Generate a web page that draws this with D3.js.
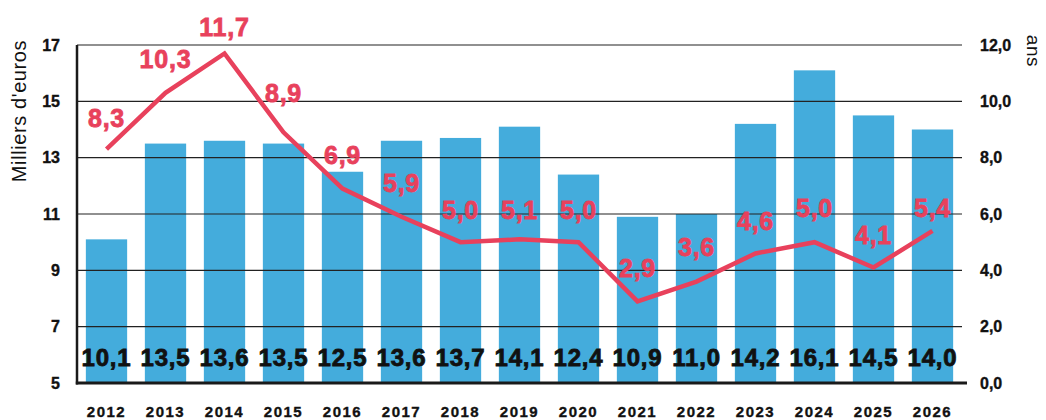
<!DOCTYPE html>
<html>
<head>
<meta charset="utf-8">
<script src="https://cdn.jsdelivr.net/npm/d3@7"></script>
<style>
  body { margin: 0; background: #fff; }
  svg text { font-family: "Liberation Sans", Arial, sans-serif; }
  .tick-lbl { font-size: 16px; font-weight: bold; fill: #111; stroke: #111; stroke-width: 0.35px; }
  .year-lbl { font-size: 15px; font-weight: bold; fill: #111; letter-spacing: 1.5px; stroke: #111; stroke-width: 0.35px; }
  .bar-lbl { font-size: 24px; font-weight: bold; fill: #111; letter-spacing: 0.8px; stroke: #111; stroke-width: 0.8px; }
  .line-lbl { font-size: 25px; font-weight: bold; fill: #e8415c; letter-spacing: 0.8px; stroke: #e8415c; stroke-width: 0.8px; }
  .axis-title { font-size: 20px; fill: #111; letter-spacing: 0.6px; }
</style>
</head>
<body>
<div id="chart"></div>
<script>
// data
const years = ["2012", "2013", "2014", "2015", "2016", "2017", "2018", "2019",
               "2020", "2021", "2022", "2023", "2024", "2025", "2026"];
const amounts = [10.1, 13.5, 13.6, 13.5, 12.5, 13.6, 13.7, 14.1, 12.4, 10.9, 11.0, 14.2, 16.1, 14.5, 14.0];
const durations = [8.3, 10.3, 11.7, 8.9, 6.9, 5.9, 5.0, 5.1, 5.0, 2.9, 3.6, 4.6, 5.0, 4.1, 5.4];
const leftTicks = [5, 7, 9, 11, 13, 15, 17];
const rightTicks = [0, 2, 4, 6, 8, 10, 12];

// how far each red label sits above its point (layout only)
const labelLift = [22, 25, 17, 30, 25, 25, 23, 20, 23, 24, 26, 23, 25, 24, 14];

const width = 1046, height = 420;
const margin = { top: 45, right: 84, bottom: 37, left: 77 };

const svg = d3.select("#chart").append("svg")
    .attr("width", width)
    .attr("height", height);

const frLocale = d3.formatLocale({ decimal: ",", thousands: " ", grouping: [3], currency: ["", " €"] });
const fmt1 = frLocale.format(".1f");

const x = d3.scaleBand()
    .domain(years)
    .range([margin.left, width - margin.right])
    .paddingInner(0.3)
    .paddingOuter(0.15);

const yLeft = d3.scaleLinear().domain([5, 17]).range([height - margin.bottom, margin.top]);
const yRight = d3.scaleLinear().domain([0, 12]).range([height - margin.bottom, margin.top]);

// bars
svg.append("g")
  .selectAll("rect")
  .data(years)
  .join("rect")
    .attr("x", d => x(d))
    .attr("width", x.bandwidth())
    .attr("y", (d, i) => yLeft(amounts[i]))
    .attr("height", (d, i) => yLeft(5) - yLeft(amounts[i]))
    .attr("fill", "#44acdc");

// gridlines (drawn over the bars, like the original)
svg.append("g")
  .selectAll("line")
  .data(leftTicks.slice(1))
  .join("line")
    .attr("x1", margin.left)
    .attr("x2", width - margin.right)
    .attr("y1", d => yLeft(d))
    .attr("y2", d => yLeft(d))
    .attr("stroke", "#222")
    .attr("stroke-width", 1.1);

// axis frame
svg.append("line")
    .attr("x1", margin.left).attr("x2", margin.left)
    .attr("y1", yLeft(17)).attr("y2", yLeft(5) + 1.5)
    .attr("stroke", "#1a1a1a").attr("stroke-width", 2.5);
svg.append("line")
    .attr("x1", margin.left - 1.2).attr("x2", width - margin.right + 5)
    .attr("y1", yLeft(5)).attr("y2", yLeft(5))
    .attr("stroke", "#1a1a1a").attr("stroke-width", 3);

// left axis
svg.append("g")
    .attr("transform", `translate(${margin.left},0)`)
    .call(d3.axisLeft(yLeft).tickValues(leftTicks).tickSize(0).tickPadding(17))
    .call(g => g.select(".domain").remove())
    .call(g => g.selectAll("text").attr("class", "tick-lbl").attr("font-family", null).attr("font-size", null).attr("fill", null));

// right axis
svg.append("g")
    .attr("transform", `translate(${width - margin.right},0)`)
    .call(d3.axisRight(yRight).tickValues(rightTicks).tickSize(0).tickPadding(18).tickFormat(fmt1))
    .call(g => g.select(".domain").remove())
    .call(g => g.selectAll("text").attr("class", "tick-lbl").attr("font-family", null).attr("font-size", null).attr("fill", null));

// x axis labels
svg.append("g")
    .attr("transform", `translate(0,417)`)
    .call(d3.axisBottom(x).tickSize(0))
    .call(g => g.select(".domain").remove())
    .call(g => g.selectAll("text").attr("class", "year-lbl").attr("y", 0).attr("dy", 0)
        .attr("font-family", null).attr("font-size", null).attr("fill", null));

// axis titles
svg.append("text")
    .attr("class", "axis-title")
    .attr("transform", "translate(26,111) rotate(-90)")
    .attr("text-anchor", "middle")
    .text("Milliers d'euros");

svg.append("text")
    .attr("class", "axis-title")
    .style("font-size", "19px")
    .attr("transform", "translate(1027,51) rotate(90)")
    .attr("text-anchor", "middle")
    .text("ans");

// bar value labels
svg.append("g")
  .selectAll("text")
  .data(years)
  .join("text")
    .attr("class", "bar-lbl")
    .attr("x", d => x(d) + x.bandwidth() / 2)
    .attr("y", 366)
    .attr("text-anchor", "middle")
    .text((d, i) => fmt1(amounts[i]));

// duration line
const cx = d => x(d) + x.bandwidth() / 2;
const line = d3.line()
    .x(d => cx(d))
    .y((d, i) => yRight(durations[i]));

svg.append("path")
    .datum(years)
    .attr("d", line)
    .attr("fill", "none")
    .attr("stroke", "#e8415c")
    .attr("stroke-width", 4.5)
    .attr("stroke-linejoin", "miter");

svg.append("g")
  .selectAll("text")
  .data(years)
  .join("text")
    .attr("class", "line-lbl")
    .attr("x", d => cx(d))
    .attr("y", (d, i) => yRight(durations[i]) - labelLift[i])
    .attr("text-anchor", "middle")
    .text((d, i) => fmt1(durations[i]));
</script>
</body>
</html>
